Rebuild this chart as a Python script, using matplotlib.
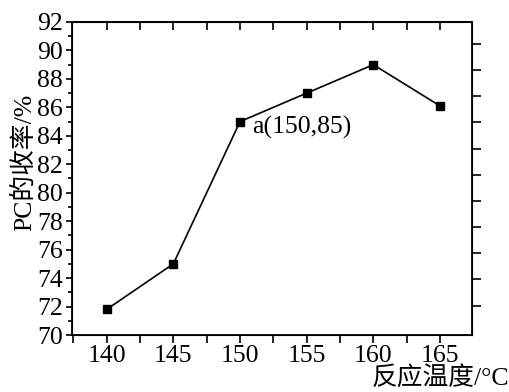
import numpy as np
import matplotlib.pyplot as plt
from matplotlib.ticker import MultipleLocator

# data
temps = [140, 145, 150, 155, 160, 165]          # reaction temperature, C
yields = [71.8, 75.0, 85.0, 87.0, 89.0, 86.1]   # PC yield, %
note = 'a(150,85)'
note_at = (150, 85)

serif = ['Liberation Serif', 'Noto Sans CJK SC']
plt.rcParams['font.family'] = serif
plt.rcParams['font.size'] = 18.5

fig = plt.figure(figsize=(5.1, 3.92), dpi=100)
ax = fig.add_axes([0.1412, 0.1454, 0.7843, 0.7985])

ax.plot(temps, yields, color='black', lw=1.2, marker='s', ms=5.5,
        markerfacecolor='black', markeredgecolor='black')
ax.annotate(note, xy=note_at, xytext=(9, -4), textcoords='offset points',
            ha='left', va='center', fontsize=18.5)

ax.set_xlim(137.4, 167.4)
ax.set_ylim(70, 92)
ax.set_xticks([140, 145, 150, 155, 160, 165])
ax.xaxis.set_minor_locator(MultipleLocator(2.5))
ax.yaxis.set_major_locator(MultipleLocator(2))
ax.yaxis.set_minor_locator(MultipleLocator(1))

for s in ax.spines.values():
    s.set_linewidth(1.3)

ax.tick_params(axis='y', which='major', direction='out', length=4.5, width=1.2, pad=2)
ax.tick_params(axis='y', which='minor', direction='out', length=3, width=1.2)
ax.tick_params(axis='x', which='both', direction='out', length=6, width=1.2,
               top=False, pad=1)
ax.xaxis.set_minor_formatter(plt.NullFormatter())

# top ticks point inwards
top = ax.secondary_xaxis('top')
top.set_xticks(np.arange(140, 167.5, 2.5))
top.tick_params(direction='in', length=6, width=1.2, labeltop=False)
top.spines['top'].set_linewidth(1.3)

# right side has its own evenly spaced ticks
rt = ax.twinx()
rt.set_ylim(-0.12, 11.83)
rt.set_yticks(np.arange(1, 12))
rt.tick_params(direction='out', length=6.5, width=1.2, labelright=False)

ax.set_ylabel('PC的收率/%', fontsize=18.5)
ax.yaxis.set_label_coords(-0.09, 0.55)
fig.text(0.999, 0.005, '反应温度/°C', ha='right', va='bottom', fontsize=18.5)

fig.savefig('out.png', dpi=100)
